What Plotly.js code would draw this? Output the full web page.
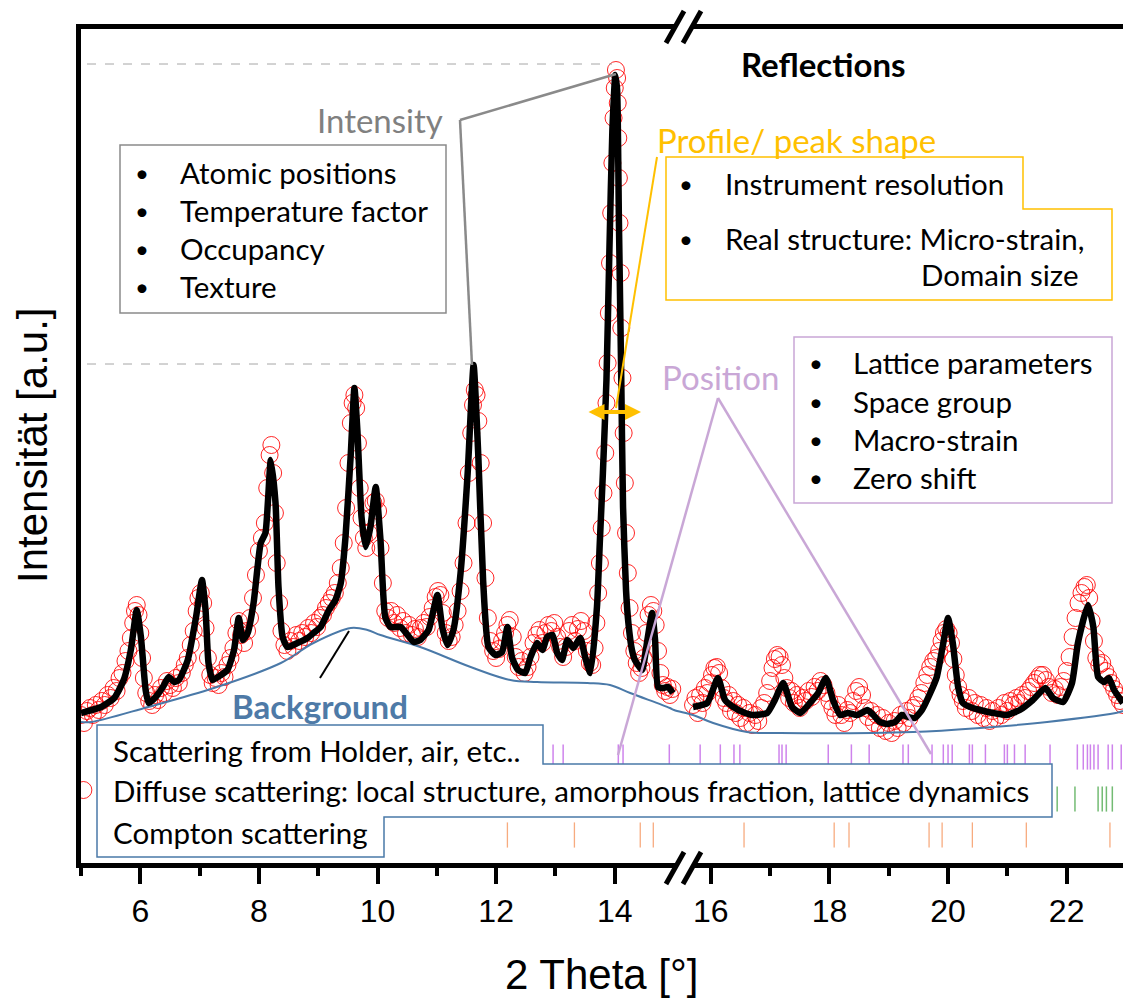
<!DOCTYPE html>
<html><head><meta charset="utf-8">
<script src="https://cdn.plot.ly/plotly-3.0.1.min.js"></script>
<style>html,body{margin:0;padding:0;background:#fff}#chart{width:1123px;height:999px}</style>
</head><body><div id="chart"></div>
<script>
// ---------- data (2 Theta in degrees, intensity in arbitrary units) ----------
const obsLeftTheta = [5.00,5.04,5.05,5.10,5.15,5.20,5.25,5.30,5.35,5.40,5.45,5.50,5.55,5.60,5.65,5.70,5.75,5.80,5.84,5.88,5.91,5.94,5.97,6.00,6.03,6.06,6.10,6.15,6.20,6.25,6.30,6.35,6.40,6.45,6.50,6.55,6.60,6.65,6.70,6.75,6.80,6.85,6.90,6.95,6.98,7.02,7.06,7.10,7.14,7.18,7.22,7.27,7.32,7.37,7.42,7.47,7.52,7.57,7.62,7.66,7.70,7.75,7.80,7.85,7.90,7.95,8.00,8.05,8.10,8.14,8.18,8.21,8.24,8.27,8.30,8.34,8.38,8.43,8.48,8.53,8.58,8.63,8.68,8.73,8.78,8.83,8.88,8.93,8.98,9.03,9.08,9.13,9.18,9.23,9.28,9.33,9.38,9.43,9.47,9.51,9.55,9.58,9.61,9.64,9.67,9.70,9.73,9.77,9.81,9.85,9.89,9.93,9.97,10.01,10.05,10.09,10.13,10.18,10.23,10.28,10.33,10.38,10.43,10.48,10.53,10.58,10.63,10.68,10.73,10.78,10.83,10.88,10.93,10.98,11.02,11.06,11.10,11.15,11.20,11.25,11.30,11.35,11.40,11.45,11.50,11.54,11.58,11.61,11.64,11.67,11.70,11.74,11.78,11.82,11.86,11.90,11.95,12.00,12.05,12.10,12.15,12.19,12.23,12.28,12.33,12.38,12.43,12.48,12.53,12.58,12.63,12.68,12.73,12.78,12.83,12.88,12.93,12.98,13.03,13.08,13.13,13.18,13.23,13.28,13.33,13.38,13.43,13.48,13.53,13.58,13.62,13.66,13.69,13.72,13.75,13.78,13.81,13.84,13.86,13.88,13.90,13.92,13.94,13.96,13.98,14.00,14.02,14.04,14.05,14.06,14.07,14.08,14.10,14.11,14.13,14.15,14.17,14.19,14.22,14.25,14.29,14.33,14.37,14.41,14.45,14.49,14.53,14.57,14.61,14.65,14.69,14.73,14.77,14.81,14.85,14.89,14.93,14.97];
const obsLeftI = [158,83,150,162,165,158,168,163,172,168,178,175,185,182,195,200,212,222,235,250,262,268,258,240,215,195,180,172,168,178,173,185,180,192,188,185,195,190,200,208,215,228,242,262,275,280,270,245,215,198,190,195,188,200,196,208,215,225,240,252,238,230,242,255,275,298,322,335,350,385,418,428,400,360,310,270,242,228,222,232,226,238,232,240,236,245,240,250,246,255,258,265,270,275,280,290,305,330,365,410,450,470,478,465,430,385,355,335,325,340,355,370,372,362,325,290,262,255,262,250,258,245,252,240,248,238,244,236,245,250,246,256,265,276,282,278,260,240,232,236,248,262,282,310,350,400,440,468,483,478,452,410,350,295,255,232,222,215,224,232,240,248,253,236,216,206,212,200,206,216,230,238,243,230,240,248,242,250,236,226,216,226,242,248,232,244,252,242,222,210,208,225,250,280,310,345,380,420,470,510,560,610,660,710,755,785,803,795,770,735,695,650,600,545,495,440,390,340,300,265,240,222,210,200,205,215,240,258,268,262,248,222,200,188,182,186,178,184];
const obsRightTheta = [15.70,15.74,15.78,15.82,15.86,15.90,15.94,15.98,16.02,16.06,16.10,16.14,16.18,16.22,16.26,16.30,16.34,16.38,16.42,16.46,16.50,16.55,16.60,16.65,16.70,16.75,16.80,16.85,16.90,16.95,17.00,17.04,17.08,17.12,17.16,17.20,17.24,17.28,17.32,17.36,17.40,17.45,17.50,17.55,17.60,17.65,17.70,17.75,17.80,17.85,17.90,17.95,18.00,18.05,18.10,18.15,18.20,18.25,18.30,18.35,18.40,18.45,18.50,18.55,18.60,18.65,18.70,18.75,18.80,18.85,18.90,18.95,19.00,19.05,19.10,19.15,19.20,19.25,19.30,19.35,19.40,19.45,19.50,19.55,19.60,19.65,19.70,19.75,19.80,19.85,19.89,19.93,19.97,20.01,20.05,20.09,20.13,20.17,20.21,20.25,20.30,20.35,20.40,20.45,20.50,20.55,20.60,20.65,20.70,20.75,20.80,20.85,20.90,20.95,21.00,21.05,21.10,21.15,21.20,21.25,21.30,21.35,21.40,21.45,21.50,21.55,21.60,21.65,21.70,21.75,21.80,21.85,21.90,21.95,22.00,22.05,22.10,22.15,22.20,22.25,22.30,22.34,22.38,22.42,22.46,22.50,22.55,22.60,22.65,22.70,22.75,22.80,22.85,22.90,22.95];
const obsRightI = [168,175,160,178,170,185,180,190,198,205,206,200,185,175,170,178,162,172,160,168,155,165,150,160,148,158,152,165,170,180,192,205,214,218,216,208,195,185,175,182,170,178,165,175,172,182,176,186,182,192,188,180,172,165,158,168,158,150,163,160,172,182,186,178,165,156,162,150,158,145,155,142,150,140,152,145,158,150,162,155,165,168,175,180,190,198,206,212,215,222,232,240,244,240,230,214,198,186,178,172,165,175,162,170,158,168,155,165,152,162,155,165,158,170,162,172,168,175,170,178,175,182,186,190,194,198,198,193,186,180,184,178,186,192,202,216,236,255,270,280,286,288,275,252,232,215,208,210,202,196,190,184,178,172,168];

const calcLeftTheta = [5.00,5.34,5.56,5.72,5.84,5.94,6.01,6.09,6.14,6.26,6.38,6.48,6.57,6.65,6.80,6.94,7.04,7.10,7.15,7.22,7.36,7.47,7.58,7.66,7.73,7.81,7.91,8.03,8.11,8.20,8.28,8.33,8.40,8.48,8.65,8.82,8.92,9.04,9.18,9.29,9.38,9.46,9.55,9.61,9.66,9.73,9.80,9.88,9.97,10.05,10.13,10.22,10.39,10.61,10.72,10.86,11.01,11.09,11.18,11.28,11.40,11.52,11.62,11.70,11.78,11.87,11.99,12.10,12.19,12.27,12.37,12.49,12.58,12.69,12.78,12.86,12.95,13.03,13.11,13.20,13.30,13.42,13.50,13.59,13.70,13.75,13.80,13.86,13.91,13.96,14.01,14.04,14.07,14.11,14.14,14.19,14.23,14.29,14.34,14.46,14.55,14.63,14.68,14.73,14.81,14.90,14.98];
const calcLeftI = [160,166,175,193,223,263,236,183,170,176,186,196,191,193,213,256,293,263,210,193,198,203,223,255,233,240,270,330,340,413,370,286,236,226,230,235,240,246,263,273,290,336,420,485,443,356,326,346,386,333,256,246,246,231,233,243,278,246,228,243,300,400,508,416,293,226,218,221,246,215,203,200,216,230,223,236,238,220,213,233,225,235,216,200,266,333,400,493,623,743,798,783,653,493,366,283,250,223,213,203,233,260,233,186,185,186,180];
const calcRightTheta = [15.70,15.94,16.12,16.24,16.38,16.54,16.71,16.95,17.08,17.22,17.37,17.51,17.67,17.81,17.94,18.06,18.18,18.31,18.47,18.64,18.74,18.85,18.97,19.11,19.22,19.33,19.44,19.56,19.70,19.81,19.92,20.00,20.08,20.17,20.25,20.37,20.54,20.76,20.99,21.21,21.43,21.64,21.77,21.94,22.09,22.19,22.36,22.45,22.53,22.63,22.71,22.80,22.95];
const calcRightI = [166,170,195,173,166,161,158,160,173,190,166,160,170,180,195,173,158,160,158,163,158,151,149,151,158,156,155,163,180,196,230,255,230,186,170,166,163,160,158,163,173,185,175,171,190,230,268,246,196,191,195,183,170];

const bgTheta = [5.00,5.17,6.13,7.24,8.37,8.92,9.55,9.83,10.05,10.72,11.57,12.24,12.69,13.54,13.92,14.26,14.93,15.00,15.70,16.04,16.61,17.17,19.41,20.54,21.67,22.90,22.95];
const bgI = [151,151,166,185,210,230,245,243,238,226,206,193,191,190,188,180,165,163,158,150,141,140,141,145,151,161,162];

const reflPhase1 = [12.96,13.13,14.06,14.14,14.92,15.82,16.16,16.39,16.49,17.15,17.20,17.27,17.98,18.37,18.67,19.24,19.33,19.73,19.92,20.00,20.07,20.36,20.41,20.63,20.95,21.00,21.12,21.30,21.72,22.18,22.28,22.35,22.40,22.46,22.53,22.70,22.77,22.92];
const reflPhase2 = [21.84,22.14,22.53,22.60,22.67,22.77];
const reflPhase3 = [12.19,13.32,14.43,14.65,16.56,18.08,18.33,19.68,19.90,20.41,21.32,22.73];
const reflRowLevel = [116,74,38];

const majorTheta = [6,8,10,12,14,16,18,20,22];
const minorTheta = [5,7,9,11,13,17,19,21];

// ---------- broken axis: theta -> plot coordinate ----------
const BREAK_START = 15.0, BREAK_END = 15.70, RESUME_AT = 15.32;
function u(t){ return t <= BREAK_START + 0.35 ? t : t - (BREAK_END - RESUME_AT); }
const U = a => a.map(u);

// ---------- geometry helpers (pixel -> paper) ----------
const W = 1123, H = 999, M = {l:81, r:0, t:29, b:136};
const PW = W - M.l - M.r, PH = H - M.t - M.b;
const px = x => (x - M.l) / PW, py = y => (H - M.b - y) / PH;

const BOX = 'Lato, "Open Sans", sans-serif';
const ARIAL = '"Liberation Sans", Arial, sans-serif';
const GRAY = '#8a8a8a', ORANGE = '#FFC000', LAV = '#C9A7D6', BLUE = '#4A79A8';
const FS = 29.5, HS = 33;

function line(x0,y0,x1,y1,color,width,dash){
  return {type:'line',xref:'paper',yref:'paper',x0:px(x0),y0:py(y0),x1:px(x1),y1:py(y1),line:{color:color,width:width,dash:dash||'solid'}};
}
function rect(x0,y0,x1,y1,color,width,fill){
  return {type:'rect',xref:'paper',yref:'paper',x0:px(x0),y0:py(y0),x1:px(x1),y1:py(y1),line:{color:color,width:width},fillcolor:fill||'#fff'};
}
function poly(pts,color,width){
  const d = 'M' + pts.map(p => px(p[0]).toFixed(5) + ',' + py(p[1]).toFixed(5)).join('L') + 'Z';
  return {type:'path',xref:'paper',yref:'paper',path:d,line:{color:color,width:width},fillcolor:'#fff'};
}
function txt(t,x,y,o){
  return Object.assign({text:t,x:px(x),y:py(y),xref:'paper',yref:'paper',showarrow:false,xanchor:'left',yanchor:'middle',font:{family:BOX,size:FS,color:'#000'}},o||{});
}
function bullet(x,y){ return txt('•',x,y,{xanchor:'center',font:{family:BOX,size:24,color:'#000'}}); }

// ---------- traces ----------
const traces = [
  {x:U(obsLeftTheta), y:obsLeftI, type:'scatter', mode:'markers', marker:{symbol:'circle-open', size:17, color:'rgba(255,0,0,0.85)', line:{width:1}}, hoverinfo:'skip'},
  {x:U(obsRightTheta), y:obsRightI, type:'scatter', mode:'markers', marker:{symbol:'circle-open', size:17, color:'rgba(255,0,0,0.85)', line:{width:1}}, hoverinfo:'skip'},
  {x:U(bgTheta), y:bgI, type:'scatter', mode:'lines', line:{color:BLUE, width:2, shape:'spline', smoothing:1}},
  {x:U(calcLeftTheta), y:calcLeftI, type:'scatter', mode:'lines', line:{color:'#000', width:6.5, shape:'spline', smoothing:0.5}},
  {x:U(calcRightTheta), y:calcRightI, type:'scatter', mode:'lines', line:{color:'#000', width:6.5, shape:'spline', smoothing:0.5}},
  {x:U(reflPhase1), y:reflPhase1.map(()=>reflRowLevel[0]), type:'scatter', mode:'markers', marker:{symbol:'line-ns-open', size:18, color:'rgba(190,90,230,0.75)', line:{width:1.5, color:'rgba(190,90,230,0.75)'}}},
  {x:U(reflPhase2), y:reflPhase2.map(()=>reflRowLevel[1]), type:'scatter', mode:'markers', marker:{symbol:'line-ns-open', size:18, color:'rgba(80,170,80,0.8)', line:{width:1.5, color:'rgba(80,170,80,0.8)'}}},
  {x:U(reflPhase3), y:reflPhase3.map(()=>reflRowLevel[2]), type:'scatter', mode:'markers', marker:{symbol:'line-ns-open', size:18, color:'rgba(245,150,95,0.8)', line:{width:1.3, color:'rgba(245,150,95,0.8)'}}}
];

// ---------- decorations ----------
const shapes = [
  line(87,64,612,64,'#a6a6a6',1,'dash'),
  line(87,364,470,364,'#a6a6a6',1,'dash'),
  line(460,120,616,74,GRAY,2.5),
  line(460,120,472,365,GRAY,2.5),
  rect(120,145,446,313,GRAY,1.5),
  line(657,157,616,408,ORANGE,2),
  poly([[666,157],[1023,157],[1023,209],[1112,209],[1112,300],[666,300]],ORANGE,1.5),
  line(718,398,618,755,LAV,2.5),
  line(718,398,931,754,LAV,2.5),
  rect(794,337,1112,503,LAV,1.5),
  line(320,678,349,631,'#000',2),
  poly([[97,725],[543,725],[543,764],[1052,764],[1052,817],[384,817],[384,857],[97,857]],BLUE,1.5),
  rect(676,19,692,35,'#fff',0,'#fff'),
  rect(676,858,692,874,'#fff',0,'#fff'),
  line(666,43,684,11,'#000',5), line(683,43,701,11,'#000',5),
  line(666,884,684,852,'#000',5), line(683,884,701,852,'#000',5)
];

const annotations = [
  txt('Intensity',380,120,{xanchor:'center',font:{family:BOX,size:HS,color:'#808080'}}),
  bullet(142,172), txt('Atomic positions',178,172),
  bullet(142,210), txt('Temperature factor',178,210),
  bullet(142,248), txt('Occupancy',178,248),
  bullet(142,286), txt('Texture',178,286),
  txt('<b>Reflections</b>',823,64,{xanchor:'center',font:{family:BOX,size:HS,color:'#000'}}),
  txt('Profile/ peak shape',655,140,{font:{family:BOX,size:HS,color:ORANGE}}),
  bullet(686,184), txt('Instrument resolution',723,184),
  bullet(686,238), txt('Real structure: Micro-strain,',723,238),
  txt('Domain size',1080,274,{xanchor:'right'}),
  txt('Position',720,377,{xanchor:'center',font:{family:BOX,size:HS,color:LAV}}),
  bullet(816,363), txt('Lattice parameters',851,363),
  bullet(816,401), txt('Space group',851,401),
  bullet(816,439), txt('Macro-strain',851,439),
  bullet(816,477), txt('Zero shift',851,477),
  txt('<b>Background</b>',320,706,{xanchor:'center',font:{family:BOX,size:HS,color:'#4E7AA7'}}),
  txt('Scattering from Holder, air, etc..',111,750),
  txt('Diffuse scattering: local structure, amorphous fraction, lattice dynamics',111,790),
  txt('Compton scattering',111,832),
  txt('Intensität [a.u.]',32,445,{xanchor:'center',textangle:-90,font:{family:ARIAL,size:42,color:'#000'}}),
  txt('2 Theta [°]',601,974,{xanchor:'center',font:{family:ARIAL,size:42,color:'#000'}}),
  {x:px(641),y:py(412),xref:'paper',yref:'paper',ax:-54,ay:0,text:'',showarrow:true,arrowside:'end+start',arrowhead:2,arrowsize:0.8,arrowwidth:4,arrowcolor:ORANGE}
];

const layout = {
  width:W, height:H, margin:M, paper_bgcolor:'#fff', plot_bgcolor:'#fff', showlegend:false,
  xaxis:{range:[5,22.57], showline:true, linewidth:5, linecolor:'#000', mirror:true, showgrid:false, zeroline:false,
         tickmode:'array', tickvals:U(majorTheta), ticktext:majorTheta.map(String), ticks:'outside', ticklen:16, tickwidth:4, tickcolor:'#000',
         tickfont:{family:ARIAL, size:32, color:'#000'},
         minor:{tickmode:'array', tickvals:U(minorTheta), ticks:'outside', ticklen:8, tickwidth:4, tickcolor:'#000', showgrid:false}},
  yaxis:{range:[10,844], showline:true, linewidth:5, linecolor:'#000', showgrid:false, zeroline:false, ticks:'', showticklabels:false},
  shapes:shapes, annotations:annotations
};

Plotly.newPlot('chart', traces, layout, {displayModeBar:false, staticPlot:true});
</script></body></html>
